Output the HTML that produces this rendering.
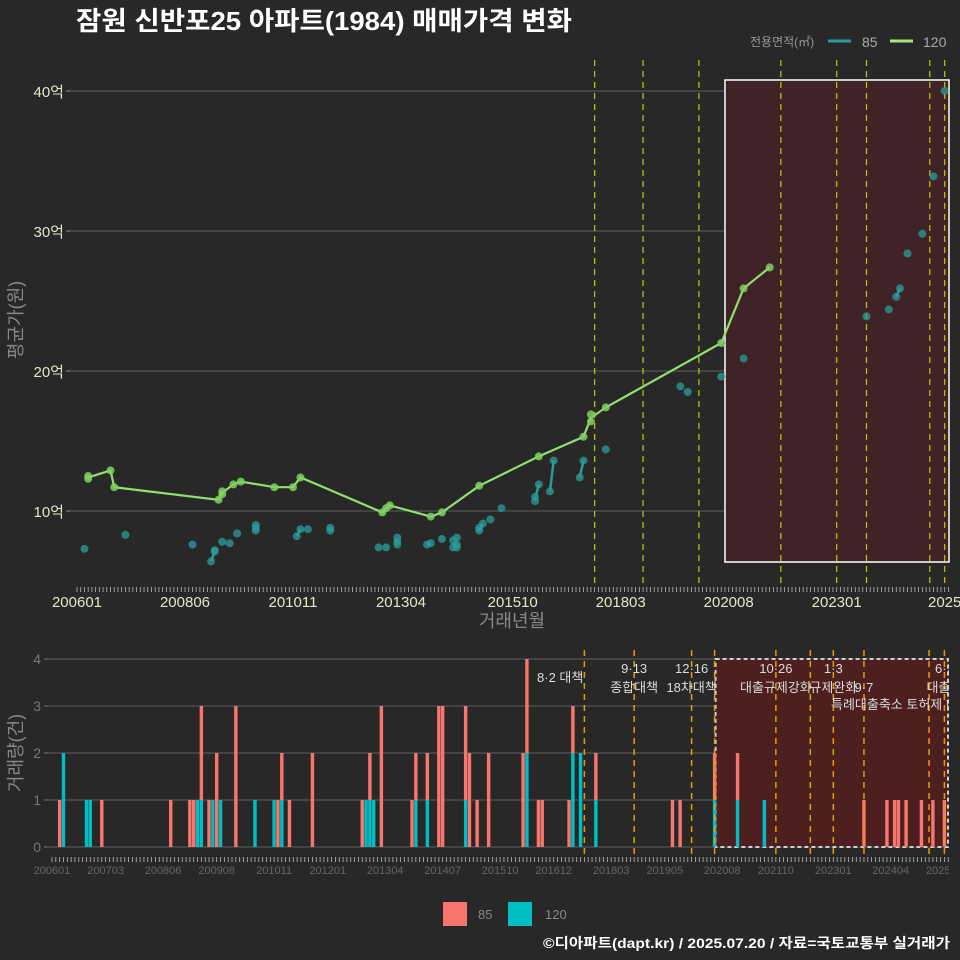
<!DOCTYPE html>
<html><head><meta charset="utf-8">
<style>
html,body{margin:0;padding:0;background:#282828;}
svg{display:block;font-family:"Liberation Sans","Noto Sans CJK KR",sans-serif;}
</style></head>
<body>
<svg id="c" width="960" height="960" viewBox="0 0 960 960"></svg>
<script>
// ---- data ----
const priceMonths120 = [200604,200604,200610,200611,200903,200904,200904,200907,200909,201006,201011,201101,201211,201212,201301,201312,201403,201501,201605,201705,201707,201707,201711,202006,202012,202107];
const priceValues120 = [12.3,12.5,12.9,11.7,10.8,11.2,11.4,11.9,12.1,11.7,11.7,12.4,9.9,10.2,10.4,9.6,9.9,11.8,13.9,15.3,16.4,16.9,17.4,22.0,25.9,27.4];
const priceMonths85 = [200603,200702,200808,200901,200902,200902,200904,200906,200908,201001,201001,201001,201012,201101,201103,201109,201109,201210,201212,201303,201303,201303,201311,201312,201403,201406,201406,201407,201407,201407,201501,201501,201502,201504,201507,201604,201604,201605,201608,201609,201704,201705,201711,201907,201909,202006,202012,202309,202403,202405,202406,202408,202412,202503,202506];
const priceValues85 = [7.3,8.3,7.6,6.4,7.1,7.2,7.8,7.7,8.4,9.0,8.6,8.8,8.2,8.7,8.7,8.6,8.8,7.4,7.4,8.1,7.6,7.8,7.6,7.7,8.0,7.4,7.9,7.6,7.4,8.1,8.6,8.8,9.1,9.4,10.2,10.7,11.0,11.9,11.4,13.6,12.4,13.6,14.4,18.9,18.5,19.6,20.9,23.9,24.4,25.3,25.9,28.4,29.8,33.9,40.0];
const volMonths = [200603,200604,200610,200611,200702,200808,200901,200902,200903,200904,200906,200907,200908,200909,201001,201006,201011,201012,201101,201103,201109,201210,201211,201212,201301,201303,201311,201312,201403,201406,201407,201501,201502,201504,201507,201604,201605,201608,201609,201704,201705,201707,201711,201907,201909,202006,202012,202107,202309,202403,202405,202406,202408,202412,202503,202506];
const vol85 = [1,0,0,0,1,1,1,1,0,2,1,0,2,0,3,0,0,1,1,1,2,1,0,1,0,3,1,1,1,3,3,2,2,1,2,2,2,1,1,1,1,0,1,1,1,1,1,0,1,1,1,1,1,1,1,1];
const vol120 = [0,2,1,1,0,0,0,0,1,1,0,1,0,1,0,1,1,0,1,0,0,0,1,1,1,0,0,1,1,0,0,1,0,0,0,0,2,0,0,0,2,2,1,0,0,1,1,1,0,0,0,0,0,0,0,0];
const priceTicks = [10,20,30,40];
const priceTickLabels = ["10억","20억","30억","40억"];
const volTicks = [0,1,2,3,4];
const topXLabels = ["200601","200806","201011","201304","201510","201803","202008","202301","202506"];
const botXLabels = ["200601","200703","200806","200908","201011","201201","201304","201407","201510","201612","201803","201905","202008","202110","202301","202404","202506"];
const topPolicy = [201708,201809,201912,202110,202301,202309,202502,202506];
const botPolicy = [201708,201809,201912,202006,202110,202207,202301,202309,202502,202506];
const policyLabels = [
 {m:201708,l1:"",l2:"8·2 대책"},
 {m:201809,l1:"9·13",l2:"종합대책"},
 {m:201912,l1:"12·16",l2:"18차대책"},
 {m:202110,l1:"10·26",l2:"대출규제강화"},
 {m:202301,l1:"1·3",l2:"규제완화"},
 {m:202309,l1:"",l2:"9·7"},
 {m:202506,l1:"6·2",l2:"대출규"}
];
// ---- scales ----
const NS="http://www.w3.org/2000/svg";
const svg=document.getElementById('c');
function mi(ym){const s=String(ym);return (parseInt(s.slice(0,4))-2006)*12+parseInt(s.slice(4,6))-1;}
function xT(ym){return 77+mi(ym)*3.724;}
function yT(v){return 511-(v-10)*14;}
function xB(ym){return 52+mi(ym)*3.83;}
function yB(v){return 847-v*47;}
function el(tag,attrs,parent){const e=document.createElementNS(NS,tag);for(const k in attrs)e.setAttribute(k,attrs[k]);(parent||svg).appendChild(e);return e;}
function txt(s,attrs,parent){const e=el('text',attrs,parent);e.textContent=s;return e;}

// title
let t=txt("잠원 신반포25 아파트(1984) 매매가격 변화",{x:76,y:30,fill:"#ffffff","font-size":26,"font-weight":"bold",textLength:496,lengthAdjust:"spacingAndGlyphs"});



// top legend
const lg=el('g',{});


txt("전용면적(㎡)",{x:750,y:46,fill:"#999","font-size":12},lg);
el('line',{x1:828,y1:41,x2:851,y2:41,stroke:"#2a9d98","stroke-width":3},lg);
txt("85",{x:862,y:47,fill:"#aaa","font-size":14},lg);
el('line',{x1:890,y1:41,x2:913,y2:41,stroke:"#a6e87a","stroke-width":3},lg);
txt("120",{x:923,y:47,fill:"#aaa","font-size":14},lg);

// top panel
const topG=el('g',{});


priceTicks.forEach((v,i)=>{
  el('line',{x1:70,y1:yT(v),x2:948,y2:yT(v),stroke:"#5e5e5e","stroke-width":1},topG);
  el('line',{x1:66,y1:yT(v),x2:70,y2:yT(v),stroke:"#888"},topG);
  const l=txt(priceTickLabels[i],{x:64,y:yT(v)+6,fill:"#e6e6c8","font-size":15,"text-anchor":"end"},topG);
  
  
});
const hr=el('rect',{x:xT(202007),y:80,width:949-xT(202007),height:482,fill:"#3f2326",stroke:"#ffffff","stroke-width":1.5},topG);


topPolicy.forEach(m=>{
  const ln=el('line',{x1:xT(m),y1:60,x2:xT(m),y2:588,stroke:"#c8c800","stroke-width":1.2,"stroke-dasharray":"6,5"},topG);
  
  
});
for(let m=0;m<=234;m++){const x=77+m*3.724;el('line',{x1:x,y1:587,x2:x,y2:592,stroke:"#bbb","stroke-width":0.8},topG);}
topXLabels.forEach(s=>{
  const l=txt(s.startsWith("2025")?"2025":s,{x:xT(s),y:607,fill:"#e6e6c8","font-size":15,"text-anchor":"middle"},topG);
  
  
});
let at=txt("거래년월",{x:512,y:627,fill:"#888","font-size":18,"text-anchor":"middle"},topG);


at=txt("평균가(원)",{x:0,y:0,fill:"#888","font-size":18,"text-anchor":"middle",transform:"translate(22,320) rotate(-90)"},topG);



function series(months,vals,name){
  const g=el('g',{},topG);
  
  
  const agg={};months.forEach((m,i)=>{const k=mi(m);(agg[k]=agg[k]||[]).push(vals[i]);});
  const keys=Object.keys(agg).map(Number).sort((a,b)=>a-b);
  const avg=keys.map(k=>agg[k].reduce((a,b)=>a+b,0)/agg[k].length);
  return {g,keys,avg};
}
const s85=series(priceMonths85,priceValues85,"series-85");
for(let i=1;i<s85.keys.length;i++){
  if(s85.keys[i]-s85.keys[i-1]<=1){
    el('line',{x1:77+s85.keys[i-1]*3.724,y1:yT(s85.avg[i-1]),x2:77+s85.keys[i]*3.724,y2:yT(s85.avg[i]),stroke:"#2a9d98","stroke-width":2.5},s85.g);
  }
}
priceMonths85.forEach((m,i)=>{
  const c=el('circle',{cx:xT(m),cy:yT(priceValues85[i]),r:4,fill:"#2a9d98","fill-opacity":0.75},s85.g);
  
  
});
const s120=series(priceMonths120,priceValues120,"series-120");
const pts=s120.keys.map((k,i)=>(77+k*3.724)+","+yT(s120.avg[i])).join(" ");
const pl=el('polyline',{points:pts,fill:"none",stroke:"#90e070","stroke-width":2.2},s120.g);


priceMonths120.forEach((m,i)=>{
  const c=el('circle',{cx:xT(m),cy:yT(priceValues120[i]),r:4,fill:"#7fd060","fill-opacity":0.85},s120.g);
  
  
});

// bottom panel
const bot=el('g',{});


volTicks.forEach(v=>{
  el('line',{x1:48,y1:yB(v),x2:948,y2:yB(v),stroke:"#5e5e5e","stroke-width":1},bot);
  el('line',{x1:44,y1:yB(v),x2:48,y2:yB(v),stroke:"#777"},bot);
  const l=txt(String(v),{x:41,y:yB(v)+5,fill:"#777","font-size":14,"text-anchor":"end"},bot);
  
  
});
const br=el('rect',{x:xB(202006)+1,y:659,width:948-xB(202006)-1,height:188,fill:"#4e1f1f",stroke:"#cfcfcf","stroke-width":2,"stroke-dasharray":"4,3"},bot);


volMonths.forEach((m,i)=>{
  const x=xB(m)-1.7;
  if(vol120[i]>0){const r=el('rect',{x:x,y:yB(vol120[i]),width:3.4,height:vol120[i]*47,fill:"#00bfc4"},bot);
    
    }
  if(vol85[i]>0){const r=el('rect',{x:x,y:yB(vol120[i]+vol85[i]),width:3.4,height:vol85[i]*47,fill:"#f8766d"},bot);
    
    }
});
botPolicy.forEach(m=>{
  const ln=el('line',{x1:xB(m),y1:650,x2:xB(m),y2:858,stroke:"#e0a000","stroke-width":1.5,"stroke-dasharray":"6,5"},bot);
  
  
});
const clip=el('clipPath',{id:"cp"},bot);el('rect',{x:0,y:640,width:949,height:240},clip);
const pg=el('g',{"clip-path":"url(#cp)"},bot);
policyLabels.forEach(p=>{
  if(p.l1){const a=txt(p.l1,{x:xB(p.m),y:673,fill:"#ddd","font-size":13,"text-anchor":"middle"},pg);
    
    }
  const b=txt(p.l2,{x:xB(p.m)+(p.m==201708?-1:0),y:p.m==201708?682:692,fill:"#ddd","font-size":13,"text-anchor":p.m==201708?"end":"middle"},pg);
  
  
});
const sp=txt("특례대출축소 토허제 해제",{x:831,y:709,fill:"#ddd","font-size":13},pg);


for(let m=0;m<=234;m++){const x=52+m*3.83;el('line',{x1:x,y1:857,x2:x,y2:862,stroke:"#bbb","stroke-width":0.8},bot);}
botXLabels.forEach(s=>{
  const l=txt(s,{x:xB(s),y:874,fill:"#666","font-size":11,"text-anchor":"middle"},pg);
  
  
});
at=txt("거래량(건)",{x:0,y:0,fill:"#888","font-size":18,"text-anchor":"middle",transform:"translate(22,753) rotate(-90)"},bot);



// bottom legend
const bl=el('g',{});


el('rect',{x:443,y:902,width:24,height:24,fill:"#f8766d"},bl);
txt("85",{x:478,y:919,fill:"#888","font-size":13},bl);
el('rect',{x:508,y:902,width:24,height:24,fill:"#00bfc4"},bl);
txt("120",{x:545,y:919,fill:"#888","font-size":13},bl);
const ft=txt("©디아파트(dapt.kr) / 2025.07.20 / 자료=국토교통부 실거래가",{x:543,y:948,fill:"#ffffff","font-size":14,"font-weight":"bold",textLength:407,lengthAdjust:"spacingAndGlyphs"});


</script>
</body></html>
